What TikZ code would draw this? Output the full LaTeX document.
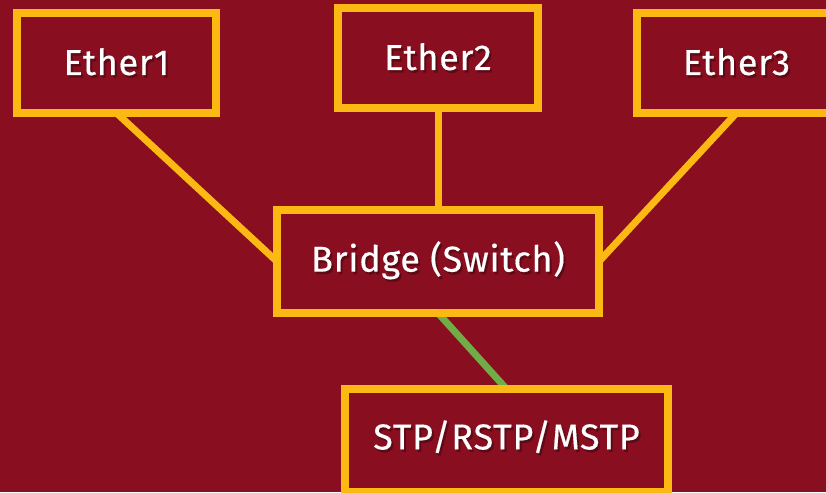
\documentclass[tikz,border=0pt]{standalone}
\usepackage{fontspec}
\setmainfont[LetterSpace=2,FakeBold=0.4]{Fira Sans}
\usetikzlibrary{shadows}
\definecolor{bgred}{HTML}{880E20}
\definecolor{gold}{HTML}{FDB913}
\definecolor{lgreen}{HTML}{70AD47}
\definecolor{shade}{HTML}{4A0710}
\definecolor{tshade}{HTML}{5C0A16}
\newcommand{\shtxt}[1]{\makebox[0pt][l]{\hspace{2pt}\raisebox{-2.5pt}{\textcolor{tshade}{#1}}}#1}
\tikzset{
  box/.style={draw=gold, fill=bgred, line width=8pt, rectangle, inner sep=0pt,
    drop shadow={shadow xshift=3pt, shadow yshift=-3pt, opacity=0.45, fill=shade}},
  link/.style={draw=gold, line width=7pt},
  glink/.style={draw=lgreen, line width=7pt},
  lbl/.style={font=\fontsize{36}{40}\selectfont, text=white}
}
\begin{document}
\begin{tikzpicture}[x=1pt,y=-1pt]
\fill[bgred] (0,0) rectangle (826,492);
\useasboundingbox (0,0) rectangle (826,492);
% connector end points
\coordinate (e1b) at (116.5,113);
\coordinate (e2b) at (438,108);
\coordinate (e3b) at (736.5,113);
\coordinate (bl) at (277,261.5);
\coordinate (brr) at (599,261.5);
\coordinate (bt) at (438,210);
\coordinate (bb) at (438,313);
\coordinate (st) at (506.5,389);
\draw[link] (e1b) -- (bl);
\draw[link] (e2b) -- (bt);
\draw[link] (e3b) -- (brr);
\draw[glink] (bb) -- (st);
% boxes
\node[box, minimum width=199pt, minimum height=100pt] (e1) at (116.5,63) {};
\node[box, minimum width=200pt, minimum height=100pt] (e2) at (438,58) {};
\node[box, minimum width=199pt, minimum height=100pt] (e3) at (736.5,63) {};
\node[box, minimum width=322pt, minimum height=103pt] (bridge) at (438,261.5) {};
\node[box, minimum width=323pt, minimum height=103pt] (stp) at (506.5,440.5) {};
% texts
\node[lbl] (t1) at (116.5,63) {\shtxt{Ether1}};
\node[lbl] (t2) at (438,58) {\shtxt{Ether2}};
\node[lbl] (t3) at (736.5,63) {\shtxt{Ether3}};
\node[lbl] (t4) at (438,261.5) {\shtxt{Bridge (Switch)}};
\node[lbl] (t5) at (506.5,438) {\shtxt{STP/RSTP/MSTP}};
\end{tikzpicture}
\end{document}
